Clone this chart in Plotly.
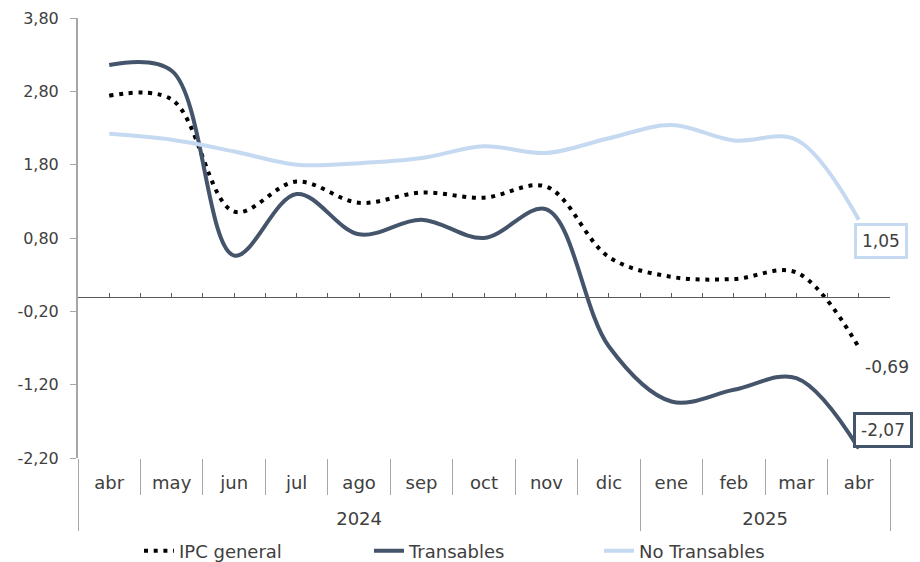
import plotly.graph_objects as go

# datos (variación %, abr 2024 - abr 2025)
years = ["2024"] * 9 + ["2025"] * 4
months = ["abr", "may", "jun", "jul", "ago", "sep", "oct", "nov", "dic",
          "ene", "feb", "mar", "abr"]

ipc_general = [2.74, 2.69, 1.16, 1.57, 1.28, 1.42, 1.35, 1.50, 0.54,
               0.27, 0.24, 0.33, -0.69]
transables = [3.16, 3.08, 0.56, 1.40, 0.85, 1.05, 0.80, 1.19, -0.68,
              -1.43, -1.27, -1.11, -2.07]
no_transables = [2.22, 2.14, 1.98, 1.80, 1.82, 1.89, 2.05, 1.96, 2.16,
                 2.34, 2.13, 2.14, 1.05]

y_ticks = [-2.2, -1.2, -0.2, 0.8, 1.8, 2.8, 3.8]

cats = [m + " " + y for m, y in zip(months, years)]
n = len(cats)

# centros y bordes de cada año (en posiciones de categoria)
year_names = list(dict.fromkeys(years))
year_centers = []
year_edges = [-0.5]
for yr in year_names:
    idx = [i for i, v in enumerate(years) if v == yr]
    year_centers.append((idx[0] + idx[-1]) / 2)
    year_edges.append(idx[-1] + 0.5)

def fmt(v):
    return f"{v:.2f}".replace(".", ",")

y_min, y_max = y_ticks[0], y_ticks[-1]
txt = "#404040"
grey = "#A6A6A6"
c_dark = "#44546A"
c_light = "#C5D9F1"
font = "DejaVu Sans"

fig = go.Figure()
fig.add_trace(go.Scatter(x=cats, y=ipc_general, name="IPC general",
                         mode="lines", line=dict(color="black", width=4, dash="4px,5.7px",
                                                 shape="spline", smoothing=1)))
fig.add_trace(go.Scatter(x=cats, y=transables, name="Transables",
                         mode="lines", line=dict(color=c_dark, width=4,
                                                 shape="spline", smoothing=1)))
fig.add_trace(go.Scatter(x=cats, y=no_transables, name="No Transables",
                         mode="lines", line=dict(color=c_light, width=4,
                                                 shape="spline", smoothing=1)))
# ejes auxiliares: linea del cero y nivel de años
fig.add_trace(go.Scatter(x=[], y=[], xaxis="x2", showlegend=False, hoverinfo="skip"))
fig.add_trace(go.Scatter(x=[], y=[], xaxis="x3", showlegend=False, hoverinfo="skip"))

last = n - 1
fig.add_annotation(x=cats[last], y=no_transables[last], text=fmt(no_transables[last]),
                   showarrow=False, xanchor="left", yanchor="top", xshift=-5, yshift=-3,
                   font=dict(size=17, color=txt, family=font),
                   bordercolor=c_light, borderwidth=3, borderpad=5, bgcolor="white")
fig.add_annotation(x=cats[last], y=ipc_general[last], text=fmt(ipc_general[last]),
                   showarrow=False, xanchor="left", yanchor="middle", xshift=4, yshift=-20,
                   font=dict(size=17, color=txt, family=font))
fig.add_annotation(x=cats[last], y=transables[last], text=fmt(transables[last]),
                   showarrow=False, xanchor="left", yanchor="bottom", xshift=-6, yshift=0,
                   font=dict(size=17, color=txt, family=font),
                   bordercolor=c_dark, borderwidth=3, borderpad=5, bgcolor="white")

fig.update_layout(
    width=920, height=562,
    margin=dict(l=78, r=30, t=18, b=104),
    plot_bgcolor="white", paper_bgcolor="white",
    font=dict(family=font, size=16, color=txt),
    showlegend=True,
    legend=dict(orientation="h", x=0.5, xanchor="center", yref="container",
                y=1 - 551 / 562, yanchor="middle", entrywidth=185,
                font=dict(size=18, color=txt), tracegroupgap=0),
    xaxis=dict(type="category", categoryorder="array", categoryarray=cats,
               range=[-0.5, n - 0.5], tickvals=cats, ticktext=months,
               showgrid=False, showline=False, zeroline=False, automargin=False,
               ticks="outside", tickson="boundaries", ticklen=36, tickcolor=grey,
               tickwidth=1, ticklabelstandoff=12,
               tickfont=dict(size=18, color=txt)),
    xaxis2=dict(overlaying="x", anchor="free", side="bottom",
                position=(0 - y_min) / (y_max - y_min),
                range=[-0.5, n - 0.5], dtick=0.5, tick0=-0.5,
                showline=True, linecolor="#595959", linewidth=1,
                ticks="inside", ticklen=4, tickcolor="#595959", tickwidth=1,
                showticklabels=False, showgrid=False, zeroline=False),
    xaxis3=dict(overlaying="x", anchor="y", side="bottom", automargin=False,
                range=[-0.5, n - 0.5], tickmode="array",
                tickvals=year_centers, ticktext=year_names, ticks="",
                ticklabelstandoff=48, tickfont=dict(size=18, color=txt),
                minor=dict(tickmode="array", tickvals=year_edges, ticks="outside",
                           ticklen=72, tickcolor=grey, tickwidth=1, showgrid=False),
                showline=False, showgrid=False, zeroline=False),
    yaxis=dict(range=[y_min, y_max], tickmode="array", tickvals=y_ticks,
               ticktext=[fmt(v) for v in y_ticks], automargin=False,
               showgrid=False, zeroline=False, showline=True, linecolor=grey,
               linewidth=2, ticks="outside", ticklen=6, tickcolor=grey,
               ticklabelstandoff=8, tickfont=dict(size=16, color=txt)),
)

fig.write_html("out.html", config={"displayModeBar": False},
               post_script="document.body.style.margin='0';")
